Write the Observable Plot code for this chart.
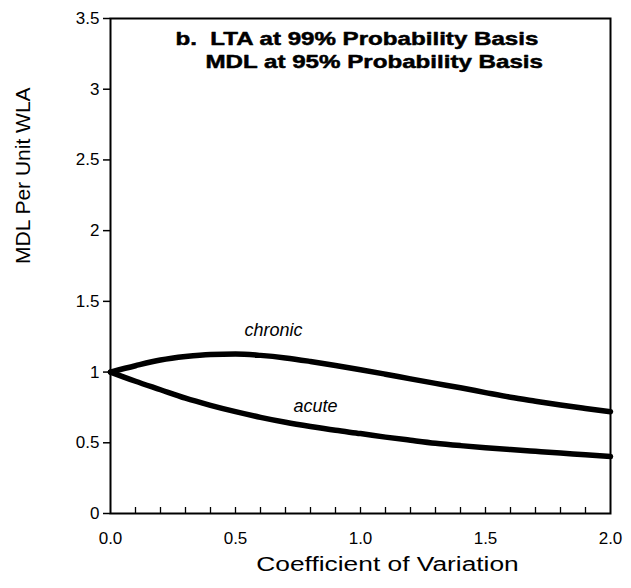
<!DOCTYPE html>
<html>
<head>
<meta charset="utf-8">
<script src="https://cdn.jsdelivr.net/npm/d3@7"></script>
<script src="https://cdn.jsdelivr.net/npm/@observablehq/plot@0.6"></script>
<style>
  html, body { margin: 0; padding: 0; background: #fff; }
  #chart svg { display: block; font-family: "Liberation Sans", Arial, sans-serif; }
</style>
</head>
<body>
<div id="chart"></div>
<script>
// Coefficient of variation (x) values
const cv = [0.0, 0.1, 0.2, 0.3, 0.4, 0.5, 0.6, 0.7, 0.8, 0.9, 1.0,
            1.1, 1.2, 1.3, 1.4, 1.5, 1.6, 1.7, 1.8, 1.9, 2.0];
// MDL per unit WLA, chronic curve
const chronic = [1.0, 1.045, 1.085, 1.11, 1.125, 1.128, 1.118, 1.1, 1.075, 1.047, 1.017,
                 0.985, 0.952, 0.92, 0.889, 0.855, 0.822, 0.794, 0.767, 0.743, 0.72];
// MDL per unit WLA, acute curve
const acute = [1.0, 0.935, 0.875, 0.815, 0.765, 0.72, 0.68, 0.645, 0.615, 0.588, 0.565,
               0.54, 0.518, 0.497, 0.48, 0.465, 0.452, 0.44, 0.428, 0.415, 0.403];
// tick values
const yTicks = [0, 0.5, 1, 1.5, 2, 2.5, 3, 3.5];
const xMajor = [0, 0.5, 1, 1.5, 2];
const xMinor = [0.1, 0.2, 0.3, 0.4, 0.5, 0.6, 0.7, 0.8, 0.9, 1.0,
                1.1, 1.2, 1.3, 1.4, 1.5, 1.6, 1.7, 1.8, 1.9];
// curve labels (data coordinates)
const curveLabels = [
  {text: "chronic", x: 0.652, y: 1.294},
  {text: "acute", x: 0.82, y: 0.758}
];
const titleLines = ["b.  LTA at 99% Probability Basis", "MDL at 95% Probability Basis"];
const xTitle = "Coefficient of Variation";
const yTitle = "MDL Per Unit WLA";

const rows = [];
cv.forEach((x, i) => {
  rows.push({series: "chronic", x, y: chronic[i]});
  rows.push({series: "acute", x, y: acute[i]});
});

const plot = Plot.plot({
  width: 631,
  height: 588,
  marginLeft: 110,
  marginRight: 21,
  marginTop: 18,
  marginBottom: 75,
  style: {fontFamily: "'Liberation Sans', Arial, sans-serif", color: "#000", background: "#fff"},
  x: {domain: [0, 2]},
  y: {domain: [0, 3.5]},
  marks: [
    Plot.axisY({ticks: yTicks, tickSize: 7, tickPadding: 4, tickFormat: d => `${d}`,
                fontSize: 17, label: null, strokeWidth: 1.5}),
    Plot.axisX({ticks: xMajor, tickSize: 0, tickPadding: 18, tickFormat: d3.format(".1f"),
                fontSize: 17, label: null}),
    Plot.axisX({ticks: xMinor, tickSize: 6, dy: -6, tickFormat: () => "", label: null, strokeWidth: 1.3}),
    Plot.frame({stroke: "#000", strokeWidth: 2}),
    Plot.line(rows, {x: "x", y: "y", z: "series", curve: "monotone-x", stroke: "#000",
                     strokeWidth: 5.5, strokeLinecap: "round"}),
    Plot.text(curveLabels, {x: "x", y: "y", text: "text", fontSize: 18, fontStyle: "italic",
                            fill: "#000"}),
    Plot.text([titleLines[0]], {frameAnchor: "top-left", lineAnchor: "middle", dx: 65, dy: 20,
                                textAnchor: "start", fontSize: 19, fontWeight: "bold",
                                fill: "#000", stroke: "#000", strokeWidth: 0.5}),
    Plot.text([titleLines[1]], {frameAnchor: "top-left", lineAnchor: "middle", dx: 95, dy: 43.5,
                                textAnchor: "start", fontSize: 19, fontWeight: "bold",
                                fill: "#000", stroke: "#000", strokeWidth: 0.5}),
    Plot.text([xTitle], {frameAnchor: "bottom", lineAnchor: "middle", dx: 27, dy: 51,
                         fontSize: 19.5, fill: "#000"}),
    Plot.text([yTitle], {frameAnchor: "left", lineAnchor: "middle", dx: -87, dy: -2,
                         rotate: -90, fontSize: 21, fill: "#000"})
  ]
});

document.getElementById("chart").appendChild(plot);

// horizontally widen some text (via textLength) to mimic the reference's wide lettering
function widen(el, s) {
  const len = el.getComputedTextLength();
  if (len > 0) {
    el.setAttribute("textLength", (len * s).toFixed(1));
    el.setAttribute("lengthAdjust", "spacingAndGlyphs");
  }
}
plot.querySelectorAll("text").forEach(el => {
  const txt = el.textContent;
  if (txt === titleLines[0] || txt === titleLines[1]) widen(el, 1.27);
  else if (txt === xTitle) widen(el, 1.35);
});
</script>
</body>
</html>
